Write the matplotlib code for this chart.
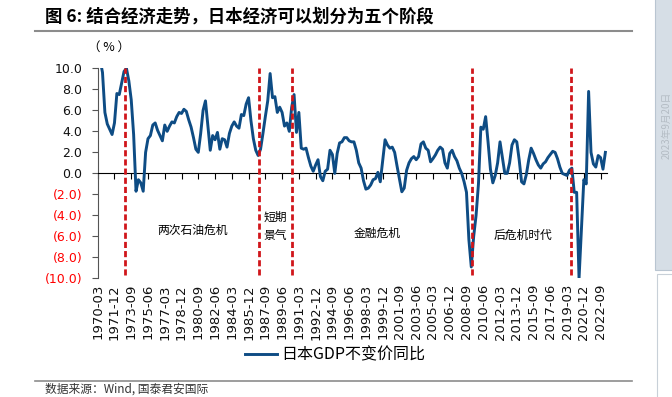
import matplotlib
matplotlib.use("Agg")
import matplotlib.pyplot as plt
from matplotlib.lines import Line2D
from matplotlib.patches import Rectangle
from matplotlib.font_manager import FontProperties

CJK = ['Noto Sans CJK SC', 'DejaVu Sans']

# Japan real GDP yoy (%), quarterly from 1970-03
gdp_yoy = [
    12.5, 10.8, 9.6, 5.8, 4.7, 4.2, 3.7, 4.8, 7.6, 7.5,
    8.6, 9.7, 10.0, 8.8, 7.0, 3.7, -1.7, -0.6, -0.9, -1.7,
    2.0, 3.3, 3.6, 4.6, 4.8, 4.1, 3.6, 3.1, 4.6, 4.0,
    4.5, 4.9, 4.8, 5.4, 5.8, 5.7, 6.1, 5.9, 5.1, 4.4,
    3.4, 2.3, 2.0, 3.8, 6.0, 6.9, 4.5, 2.2, 3.6, 3.2,
    3.9, 2.3, 3.3, 3.2, 2.5, 3.8, 4.5, 4.9, 4.5, 4.3,
    5.6, 5.5, 6.6, 7.2, 5.0, 3.3, 2.2, 1.7, 2.3, 3.8,
    5.4, 6.9, 9.5, 7.2, 7.3, 5.8, 6.3, 5.8, 4.5, 4.8,
    4.0, 6.3, 7.5, 3.9, 5.8, 2.4, 2.3, 2.4, 1.5, 0.7,
    0.2, 0.8, 1.3, -0.3, -0.7, 0.2, 0.4, 2.2, 1.8, 0.0,
    1.9, 2.9, 3.0, 3.4, 3.4, 3.1, 3.0, 3.0, 2.2, 1.0,
    0.5, -0.7, -1.5, -1.4, -1.1, -0.6, -0.5, 0.1, -0.8, 1.2,
    3.2, 2.7, 2.4, 2.5, 2.0, 0.7, -0.5, -1.75, -1.4, 0.3,
    1.0, 1.4, 1.6, 1.3, 1.6, 2.8, 3.0, 2.4, 2.2, 1.1,
    1.4, 1.75, 2.2, 2.5, 2.3, 1.0, 0.5, 1.9, 2.2, 1.6,
    1.2, 0.5, 0.0, -0.8, -1.8, -6.3, -8.9, -6.0, -4.0, -1.0,
    4.4, 4.2, 5.4, 3.0, 0.4, -0.9, -0.2, 1.0, 3.0, 1.5,
    0.0, 0.0, 1.0, 2.7, 3.2, 3.0, 1.3, -0.8, -1.0, -0.1,
    1.3, 2.4, 1.9, 1.3, 0.8, 0.5, 0.9, 1.1, 1.5, 1.8,
    2.1, 2.0, 1.4, 0.6, 0.0, -0.1, -0.2, 0.3, 0.5, -1.8,
    -1.8, -10.0, -5.3, -0.6, -1.0, 7.8, 2.0, 0.9, 0.6, 1.7,
    1.5, 0.4, 2.0,
]
quarters = [f"{1970 + i // 4}-{3 * (i % 4 + 1):02d}" for i in range(len(gdp_yoy))]
tick_idx = list(range(0, len(gdp_yoy), 7))

yticks = [10, 8, 6, 4, 2, 0, -2, -4, -6, -8, -10]
ylabels = [f"{v:.1f}" if v >= 0 else f"({-v:.1f})" for v in yticks]

# stage boundaries (quarter index) and stage names
stage_breaks = [11.4, 67.5, 81.0, 156.2, 197.6]
stage_names = ['两次石油危机', '短期\n景气', '金融危机', '后危机时代']
stage_x = [39.8, 74.2, 116.6, 177.6]
stage_y = [-5.4, -5.05, -5.7, -5.9]

fig = plt.figure(figsize=(6.72, 3.97), dpi=100)
ax = fig.add_axes([0.1454, 0.2985, 0.7576, 0.5295])

line, = ax.plot(range(len(gdp_yoy)), gdp_yoy, color='#0E4C84', lw=2.1,
                solid_joinstyle='round', zorder=3)
ax.vlines(stage_breaks, -9.7, 10, colors='#D0161B', lw=2.0,
          linestyles=(0, (2.2, 1.1)), zorder=4)
for x, y, s in zip(stage_x, stage_y, stage_names):
    ax.text(x, y, s, ha='center', va='center', fontsize=8.5, family=CJK,
            linespacing=1.5)

ax.set_xlim(0, 212.6)
ax.set_ylim(-10, 10)
ax.spines['top'].set_visible(False)
ax.spines['right'].set_visible(False)
ax.spines['bottom'].set_position(('data', 0))
ax.spines['bottom'].set_color('black')
ax.spines['left'].set_color('#555555')
ax.set_xticks(tick_idx)
ax.tick_params(axis='x', direction='out', length=4, labelbottom=False, color='black')
ax.set_yticks(yticks, ylabels)
ax.tick_params(axis='y', direction='out', length=4, color='#555555', labelsize=9, pad=7)
for t, v in zip(ax.get_yticklabels(), yticks):
    t.set_color('#FF0000' if v < 0 else '#111111')

sec = ax.secondary_xaxis('bottom')
sec.set_xticks(tick_idx, [quarters[i] for i in tick_idx], rotation=90)
sec.tick_params(length=0, pad=4, labelsize=9.5, labelcolor='#111111')
sec.spines['bottom'].set_visible(False)

fig.legend(handles=[line], labels=['日本GDP不变价同比'], loc='center',
           bbox_to_anchor=(0.4985, 0.106), frameon=False,
           prop=FontProperties(family=CJK, size=11.5), handlelength=2.0,
           handletextpad=0.3)

fig.text(45 / 672, 1 - 17 / 397, '图 6: 结合经济走势，日本经济可以划分为五个阶段',
         fontsize=12.5, weight='bold', va='center', family=CJK)
fig.add_artist(Line2D([35 / 672, 632 / 672], [1 - 31 / 397] * 2, color='#8C8C8C', lw=1.5))
fig.text(88 / 672, 1 - 47 / 397, '（ % ）', fontsize=9, va='center', family=CJK)

fig.add_artist(Line2D([35 / 672, 632 / 672], [1 - 381 / 397] * 2, color='#8C8C8C', lw=1.2))
fig.text(45 / 672, 1 - 389 / 397, '数据来源：Wind, 国泰君安国际', fontsize=8.5,
         style='italic', va='center', color='#333333', family=CJK)

fig.add_artist(Rectangle((655 / 672, 1 - 270 / 397), 20 / 672, 272 / 397,
                         facecolor='#D6DEE6', edgecolor='#B9C5D1', lw=0.8))
fig.add_artist(Rectangle((657 / 672, -0.01), 20 / 672, 1 - 274 / 397 + 0.01,
                         facecolor='white', edgecolor='#C8D0D8', lw=0.8))
fig.text(667 / 672, 1 - 125 / 397, '2023年9月20日', rotation=90, fontsize=7,
         color='#B4BCC4', ha='center', va='center', family=CJK)

fig.savefig('out.png', dpi=100)
